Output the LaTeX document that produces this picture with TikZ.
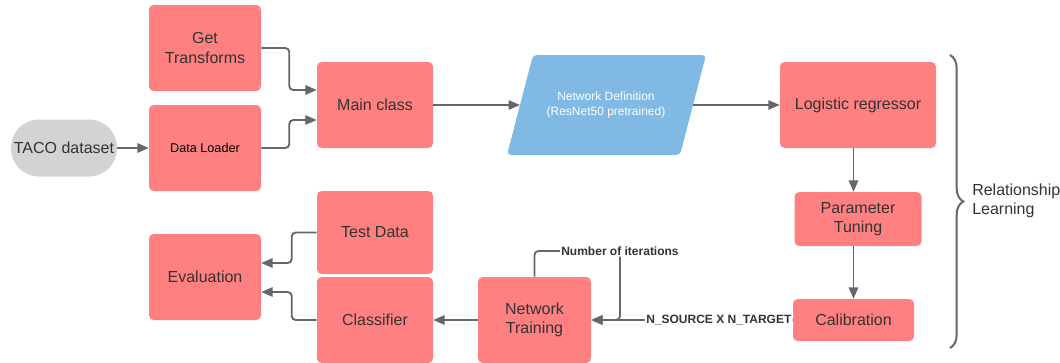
\documentclass[tikz,border=0pt]{standalone}
\usepackage{fontspec}
\setmainfont{Liberation Sans}
\usepackage{xcolor}
\usetikzlibrary{arrows.meta,decorations.pathreplacing}

\definecolor{boxred}{RGB}{255,128,128}
\definecolor{defblue}{RGB}{128,185,228}
\definecolor{pillgray}{RGB}{211,211,213}
\definecolor{txtgray}{RGB}{51,51,51}
\definecolor{linegray}{RGB}{102,102,102}

\begin{document}
\begin{tikzpicture}[x=0.75pt,y=0.75pt,yscale=-1,xscale=1,
  stage/.style={fill=boxred,draw=none,rounded corners=3.5pt,text=txtgray,align=center,
    font=\fontsize{12}{14.5}\selectfont,inner sep=0pt},
  conn/.style={draw=linegray,line width=1.4pt,rounded corners=3pt,
    -{Triangle[length=8.5pt,width=7pt]}},
  thinconn/.style={draw=linegray,line width=0.9pt,-{Triangle[length=8.5pt,width=7pt]}},
  tag/.style={text=txtgray,font=\fontsize{9}{11}\selectfont\bfseries,inner sep=1pt,outer sep=0pt,fill=white}]
  \path[use as bounding box] (0,0) rectangle (1060,362);

  %Shape: Pill
  \node [fill=pillgray,rounded corners=21pt,minimum width=79.5pt,minimum height=42.75pt,
    text=txtgray,font=\fontsize{12}{14.5}\selectfont,inner sep=0pt] (taco) at (64,148) {TACO dataset};
  %Shape: Rectangles, left column
  \node [stage,minimum width=84pt,minimum height=64.5pt] (gett) at (205,48) {Get\\Transforms};
  \node [stage,minimum width=84pt,minimum height=64.5pt,text=black,font=\fontsize{9.5}{11}\selectfont] (loader) at (205,148) {Data Loader};
  \node [stage,minimum width=84pt,minimum height=64.5pt] (evalu) at (205,277) {Evaluation};
  %Shape: Rectangles, second column
  \node [stage,minimum width=87pt,minimum height=64.5pt] (mainc) at (375,105) {Main class};
  \node [stage,minimum width=87pt,minimum height=62.25pt] (testd) at (375,232.5) {Test Data};
  \node [stage,minimum width=87pt,minimum height=64.5pt] (classif) at (375,320) {Classifier};
  \node [stage,minimum width=84.75pt,minimum height=64.5pt] (nettrain) at (534.5,320) {Network\\Training};

  %Shape: Parallelogram
  \fill [defblue,rounded corners=3pt] (507,155) -- (533,55) -- (706,55) -- (680,155) -- cycle;
  \node [text=white,align=center,font=\fontsize{9}{11}\selectfont] (netdef) at (606,105) {Network Definition\\(ResNet50 pretrained)};
  \coordinate (netdefW) at (520,105);
  \coordinate (netdefE) at (693,105);

  %Shape: Rectangles, right column
  \node [stage,minimum width=117pt,minimum height=64.5pt] (logreg) at (858,105) {Logistic regressor};
  \node [stage,minimum width=95.25pt,minimum height=40.5pt] (ptune) at (858,219) {Parameter\\Tuning};
  \node [stage,minimum width=90.75pt,minimum height=31.5pt] (calib) at (853.5,320) {Calibration};

  %Brace
  \draw [draw=linegray,line width=1.5pt,decorate,decoration={brace,amplitude=10pt}] (950,55) -- (950,348);
  % Text Node
  \node [anchor=west,align=left,text=txtgray,font=\fontsize{12}{14.5}\selectfont,inner sep=0pt] (rel) at (972,201) {Relationship\\Learning};

  % Text Node
  \node [tag] (iterlbl) at (620,251) {Number of iterations};

  %Connectors
  \draw [conn] (taco) -- (loader);
  \draw [conn] (gett.east) -- ++(28,0) |- ([yshift=-11.25pt]mainc.west);
  \draw [conn] (loader.east) -- ++(28,0) |- ([yshift=11.25pt]mainc.west);
  \draw [thinconn] (mainc.east) -- (netdefW);
  \draw [thinconn] (netdefE) -- (logreg.west);
  \draw [conn] (logreg.south -| calib.north) -- (calib.north |- ptune.north);
  \draw [conn] (ptune.south -| calib.north) -- (calib.north);
  \draw [conn] (calib.west) -- (nettrain.east) node [tag,anchor=east,pos=0] {N\_SOURCE X N\_TARGET};
  \draw [draw=linegray,line width=1.4pt,rounded corners=3pt] (nettrain.north) |- (iterlbl.west);
  \draw [conn] (iterlbl.south) |- (nettrain.east);
  \draw [conn] (nettrain.west) -- (classif.east);
  \draw [conn] (classif.west) -- ++(-25,0) |- ([yshift=11.25pt]evalu.east);
  \draw [conn] (testd.west) -- ++(-25,0) |- ([yshift=-10.5pt]evalu.east);
\end{tikzpicture}
\end{document}
